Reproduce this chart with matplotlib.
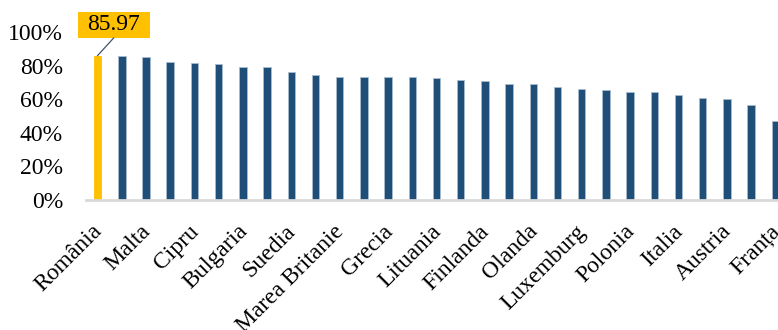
import matplotlib.pyplot as plt
import matplotlib.transforms as mtransforms
from matplotlib.patches import Rectangle
import numpy as np

plt.rcParams["font.family"] = ["Liberation Serif", "DejaVu Serif"]

# Data (every other category is labelled in the source chart)
labels = ["România", "", "Malta", "", "Cipru", "", "Bulgaria", "", "Suedia", "",
          "Marea Britanie", "", "Grecia", "", "Lituania", "", "Finlanda", "",
          "Olanda", "", "Luxemburg", "", "Polonia", "", "Italia", "", "Austria",
          "", "Franța"]
values = [85.97, 85.9, 85.2, 82.0, 81.7, 80.7, 79.3, 79.3, 76.4, 74.2,
          73.4, 73.4, 73.2, 73.0, 72.4, 71.7, 70.9, 69.3, 69.3, 67.1,
          65.8, 65.2, 64.2, 64.0, 62.4, 60.8, 60.4, 56.7, 47.1]
highlight = 0
yticks = [0, 20, 40, 60, 80, 100]

W, H = 778, 330
fig = plt.figure(figsize=(W / 100, H / 100), dpi=100)
ax = fig.add_axes([86 / W, (H - 200) / H, (W - 86) / W, 168 / H])

x = np.arange(len(values))
colors = ["#FFC000" if i == highlight else "#1F4E79" for i in x]
edges = ["#FFC000" if i == highlight else "#A9BCD0" for i in x]
ax.bar(x, values, width=0.31, color=colors, edgecolor=edges, linewidth=0.6, zorder=2)

ax.set_xlim(-0.48, 28.11)
ax.set_ylim(0, 100)
ax.set_yticks(yticks)
ax.set_yticklabels([f"{t}%" for t in yticks], fontsize=17)
ax.set_xticks(x[::2])
ax.set_xticklabels(labels[::2], fontsize=17, rotation=45, ha="right",
                   va="top", rotation_mode="anchor")
ax.tick_params(axis="both", length=0)
ax.tick_params(axis="y", pad=16.5)
ax.tick_params(axis="x", pad=15)
shift = mtransforms.ScaledTranslation(-6 / 100, 0, fig.dpi_scale_trans)
for lab in ax.get_xticklabels():
    lab.set_transform(lab.get_transform() + shift)

for s in ["top", "right", "left"]:
    ax.spines[s].set_visible(False)
ax.spines["bottom"].set_color("#D9D9D9")
ax.spines["bottom"].set_linewidth(2)

# Data label for highlighted bar: yellow box with leader line
bx0, bx1, by0, by1 = highlight - 0.83, highlight + 2.16, 96.4, 111.9
ax.add_patch(Rectangle((bx0, by0), bx1 - bx0, by1 - by0, fc="#FFC000",
                       ec="none", clip_on=False, zorder=3))
ax.text((bx0 + bx1) / 2, (by0 + by1) / 2 + 0.3, f"{values[highlight]:.2f}",
        fontsize=17, ha="center", va="center", zorder=4, clip_on=False)
ax.plot([highlight, highlight + 0.66], [values[highlight], by0], color="#44546A",
        lw=0.9, clip_on=False, zorder=3)

fig.savefig("out.png", dpi=100)
